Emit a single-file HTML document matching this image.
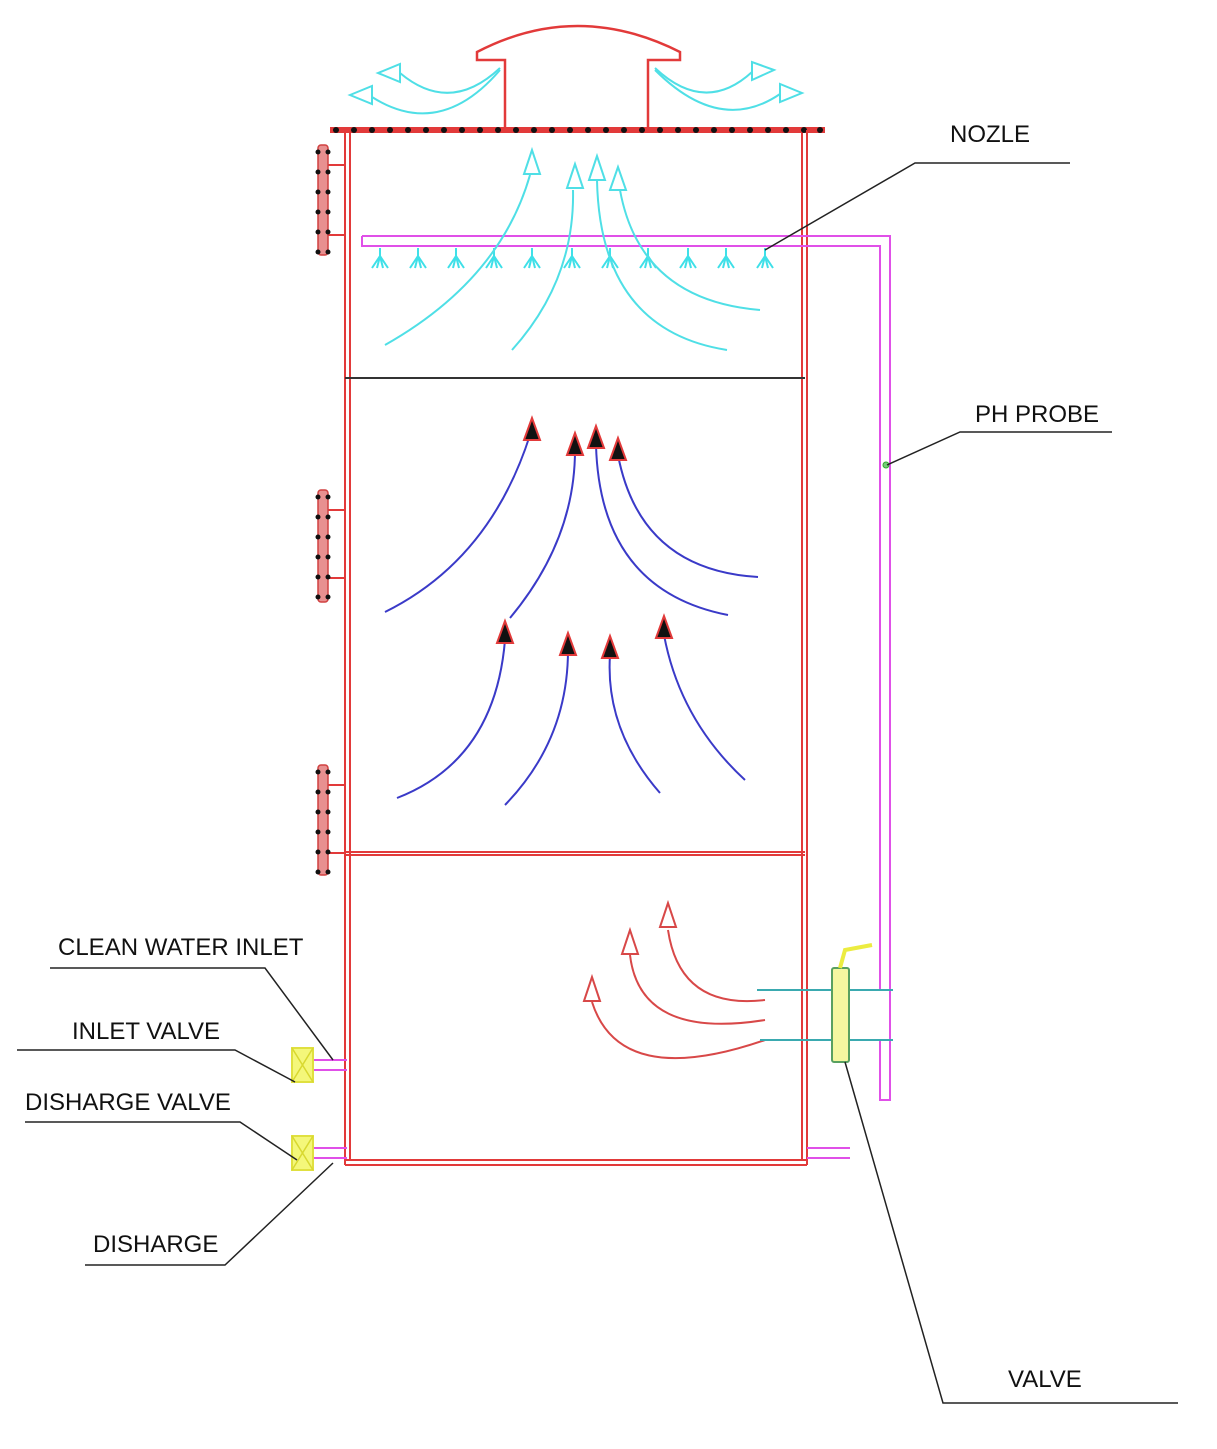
<!DOCTYPE html>
<html><head><meta charset="utf-8"><style>
html,body{margin:0;padding:0;background:#fff}
svg{display:block}
text{font-family:"Liberation Sans Narrow","Liberation Sans",sans-serif;font-size:24px;fill:#111}
</style></head><body>
<svg width="1217" height="1449" viewBox="0 0 1217 1449" xmlns="http://www.w3.org/2000/svg">
<defs>
<g id="nz" stroke="#3fe0e8" stroke-width="2" fill="none"><line x1="0" y1="0" x2="0" y2="12"/><line x1="0" y1="8" x2="-8" y2="20"/><line x1="0" y1="8" x2="8" y2="20"/><line x1="0" y1="8" x2="-3" y2="20"/><line x1="0" y1="8" x2="3" y2="20"/></g>
<g id="ba"><polygon points="0,-12 -8,10 8,10" fill="#111" stroke="#e23a3a" stroke-width="2"/></g>
</defs>
<!-- top plate -->
<line x1="330" y1="130" x2="825" y2="130" stroke="#e23a3a" stroke-width="6"/>
<g fill="#111">
<circle cx="336" cy="130" r="3"/><circle cx="354" cy="130" r="3"/><circle cx="372" cy="130" r="3"/><circle cx="390" cy="130" r="3"/><circle cx="408" cy="130" r="3"/><circle cx="426" cy="130" r="3"/><circle cx="444" cy="130" r="3"/><circle cx="462" cy="130" r="3"/><circle cx="480" cy="130" r="3"/><circle cx="498" cy="130" r="3"/><circle cx="516" cy="130" r="3"/><circle cx="534" cy="130" r="3"/><circle cx="552" cy="130" r="3"/><circle cx="570" cy="130" r="3"/><circle cx="588" cy="130" r="3"/><circle cx="606" cy="130" r="3"/><circle cx="624" cy="130" r="3"/><circle cx="642" cy="130" r="3"/><circle cx="660" cy="130" r="3"/><circle cx="678" cy="130" r="3"/><circle cx="696" cy="130" r="3"/><circle cx="714" cy="130" r="3"/><circle cx="732" cy="130" r="3"/><circle cx="750" cy="130" r="3"/><circle cx="768" cy="130" r="3"/><circle cx="786" cy="130" r="3"/><circle cx="804" cy="130" r="3"/><circle cx="820" cy="130" r="3"/>
</g>
<!-- chimney -->
<g stroke="#e23a3a" stroke-width="2.5" fill="none">
<path d="M505,130 V60 H477 V52 Q577,0 680,52 V60 H648 V130"/>
</g>
<!-- walls -->
<g stroke="#e23a3a" stroke-width="2" fill="none">
<line x1="345" y1="130" x2="345" y2="1165"/><line x1="350" y1="133" x2="350" y2="1160"/>
<line x1="802" y1="133" x2="802" y2="1160"/><line x1="807" y1="130" x2="807" y2="1165"/>
<line x1="345" y1="1160" x2="807" y2="1160"/><line x1="345" y1="1165" x2="807" y2="1165"/>
<line x1="345" y1="852" x2="805" y2="852"/><line x1="345" y1="855" x2="805" y2="855"/>
<!-- flange connections -->
<path d="M328,165 H345 M328,235 H345"/>
<path d="M328,510 H345 M328,578 H345"/>
<path d="M328,785 H345 M328,853 H345"/>
</g>
<line x1="345" y1="378" x2="805" y2="378" stroke="#333" stroke-width="2"/>
<!-- flanges -->
<g fill="#e89090" stroke="#d04040" stroke-width="1.5">
<rect x="318" y="145" width="10" height="110" rx="3"/>
<rect x="318" y="490" width="10" height="112" rx="3"/>
<rect x="318" y="765" width="10" height="110" rx="3"/>
</g>
<g fill="#111">
<circle cx="318" cy="152" r="2.5"/><circle cx="328" cy="152" r="2.5"/><circle cx="318" cy="172" r="2.5"/><circle cx="328" cy="172" r="2.5"/><circle cx="318" cy="192" r="2.5"/><circle cx="328" cy="192" r="2.5"/><circle cx="318" cy="212" r="2.5"/><circle cx="328" cy="212" r="2.5"/><circle cx="318" cy="232" r="2.5"/><circle cx="328" cy="232" r="2.5"/><circle cx="318" cy="252" r="2.5"/><circle cx="328" cy="252" r="2.5"/>
<circle cx="318" cy="497" r="2.5"/><circle cx="328" cy="497" r="2.5"/><circle cx="318" cy="517" r="2.5"/><circle cx="328" cy="517" r="2.5"/><circle cx="318" cy="537" r="2.5"/><circle cx="328" cy="537" r="2.5"/><circle cx="318" cy="557" r="2.5"/><circle cx="328" cy="557" r="2.5"/><circle cx="318" cy="577" r="2.5"/><circle cx="328" cy="577" r="2.5"/><circle cx="318" cy="597" r="2.5"/><circle cx="328" cy="597" r="2.5"/>
<circle cx="318" cy="772" r="2.5"/><circle cx="328" cy="772" r="2.5"/><circle cx="318" cy="792" r="2.5"/><circle cx="328" cy="792" r="2.5"/><circle cx="318" cy="812" r="2.5"/><circle cx="328" cy="812" r="2.5"/><circle cx="318" cy="832" r="2.5"/><circle cx="328" cy="832" r="2.5"/><circle cx="318" cy="852" r="2.5"/><circle cx="328" cy="852" r="2.5"/><circle cx="318" cy="872" r="2.5"/><circle cx="328" cy="872" r="2.5"/>
</g>
<!-- spray pipe -->
<g stroke="#e050e8" stroke-width="2" fill="none">
<path d="M362,236 H890 V1100 H880 V1040"/>
<path d="M362,236 V246 H880 V990"/>
<!-- bottom pipe -->
<path d="M807,1148 H850 M807,1158 H850"/>
<!-- left pipes -->
<path d="M313,1060 H347 M313,1070 H347 M313,1148 H347 M313,1158 H347"/>
</g>
<circle cx="886" cy="465" r="3" fill="#7c7" stroke="#3a3"/>
<g>
<use href="#nz" x="380" y="248"/><use href="#nz" x="418" y="248"/><use href="#nz" x="456" y="248"/><use href="#nz" x="494" y="248"/><use href="#nz" x="532" y="248"/><use href="#nz" x="572" y="248"/><use href="#nz" x="610" y="248"/><use href="#nz" x="648" y="248"/><use href="#nz" x="688" y="248"/><use href="#nz" x="726" y="248"/><use href="#nz" x="765" y="248"/>
</g>
<!-- cyan flows -->
<g stroke="#4fdfe6" stroke-width="2" fill="none">
<path d="M385,345 Q500,280 530,175"/><polygon points="532,150 524,174 540,174"/>
<path d="M512,350 Q575,280 573,190"/><polygon points="575,164 567,188 583,188"/>
<path d="M727,350 Q600,330 597,180"/><polygon points="597,156 589,180 605,180"/>
<path d="M760,310 Q640,300 620,190"/><polygon points="618,167 610,190 626,190"/>
<path d="M500,68 Q450,115 400,73"/><polygon points="378,73 400,64 400,82"/>
<path d="M500,70 Q440,140 372,97"/><polygon points="350,95 372,86 372,104"/>
<path d="M655,68 Q705,115 752,72"/><polygon points="774,70 752,62 752,80"/>
<path d="M655,70 Q720,135 780,94"/><polygon points="802,93 780,84 780,102"/>
</g>
<!-- blue flows -->
<g stroke="#3a3ac8" stroke-width="2" fill="none">
<path d="M385,612 Q490,560 530,435"/>
<path d="M510,618 Q575,540 575,450"/>
<path d="M728,615 Q600,590 596,445"/>
<path d="M758,577 Q640,570 618,455"/>
<path d="M397,798 Q495,760 505,640"/>
<path d="M505,805 Q568,740 568,650"/>
<path d="M660,793 Q605,730 610,655"/>
<path d="M745,780 Q680,720 664,635"/>
</g>
<use href="#ba" x="532" y="430"/><use href="#ba" x="575" y="445"/><use href="#ba" x="596" y="438"/><use href="#ba" x="618" y="450"/>
<use href="#ba" x="505" y="633"/><use href="#ba" x="568" y="645"/><use href="#ba" x="610" y="648"/><use href="#ba" x="664" y="628"/>
<!-- red flows -->
<g stroke="#d84848" stroke-width="2" fill="none">
<path d="M765,1000 Q680,1010 668,930"/><polygon points="668,903 660,927 676,927"/>
<path d="M765,1020 Q640,1040 630,955"/><polygon points="630,930 622,954 638,954"/>
<path d="M765,1040 Q620,1090 592,1002"/><polygon points="592,977 584,1001 600,1001"/>
</g>
<!-- valve -->
<g stroke="#3aaab0" stroke-width="2"><line x1="757" y1="990" x2="893" y2="990"/><line x1="760" y1="1040" x2="893" y2="1040"/></g>
<rect x="832" y="968" width="17" height="94" rx="2" fill="#f4f7a0" stroke="#58a060" stroke-width="2"/>
<path d="M840,968 L845,950 L872,945" stroke="#ecec40" stroke-width="4" fill="none"/>
<!-- left valves -->
<g fill="#f4f77a" stroke="#e0e040" stroke-width="2">
<rect x="292" y="1048" width="21" height="34"/><rect x="292" y="1136" width="21" height="34"/>
</g>
<g stroke="#d8d830" stroke-width="1.5"><path d="M292,1048 L313,1082 M313,1048 L292,1082 M292,1136 L313,1170 M313,1136 L292,1170"/></g>
<!-- leaders -->
<g stroke="#222" stroke-width="1.5" fill="none">
<path d="M1070,163 H915 L765,250"/>
<path d="M1112,432 H960 L887,465"/>
<path d="M50,968 H265 L333,1060"/>
<path d="M17,1050 H235 L295,1082"/>
<path d="M25,1122 H240 L297,1160"/>
<path d="M85,1265 H225 L333,1163"/>
<path d="M1178,1403 H943 L845,1062"/>
</g>
<text x="950" y="142">NOZLE</text>
<text x="975" y="422">PH PROBE</text>
<text x="58" y="955">CLEAN WATER INLET</text>
<text x="72" y="1039">INLET VALVE</text>
<text x="25" y="1110">DISHARGE VALVE</text>
<text x="93" y="1252">DISHARGE</text>
<text x="1008" y="1387">VALVE</text>
</svg>
</body></html>
